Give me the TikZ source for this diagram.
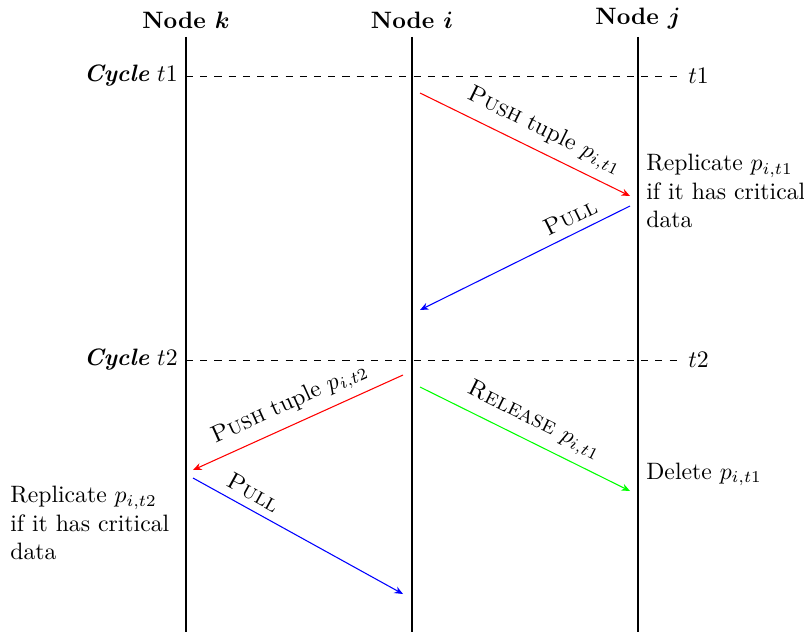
\documentclass[tikz,border=0pt]{standalone}
\usepackage{amsmath}
\usetikzlibrary{arrows.meta}
\begin{document}
\begin{tikzpicture}[x=0.4219pt,y=-0.4219pt,
  life/.style={semithick},
  cyc/.style={dashed},
  msg/.style={line width=0.45pt,-{Stealth[length=3.6pt,width=3pt]}},
  lbl/.style={sloped,above},
  hdr/.style={anchor=south},
  note/.style={align=left}]
\useasboundingbox (0,0) rectangle (804,641);
% headers
\node[hdr] (hk) at (186,37) {\textbf{Node $\boldsymbol{k}$}};
\node[hdr] (hi) at (412,37) {\textbf{Node $\boldsymbol{i}$}};
\node[hdr] (hj) at (638,37) {\textbf{Node $\boldsymbol{j}$}};
\coordinate (kb) at (186,632);
\coordinate (ib) at (412,632);
\coordinate (jb) at (638,632);
\draw[life] (186,37) -- (kb);
\draw[life] (412,37) -- (ib);
\draw[life] (638,37) -- (jb);
% cycles
\coordinate (c1s) at (186,76);
\coordinate (c1e) at (680,76);
\coordinate (c2s) at (186,360);
\coordinate (c2e) at (680,360);
\node[anchor=east] (c1l) at (c1s) {\textbf{\textit{Cycle}} $t1$};
\node[anchor=east] (c2l) at (c2s) {\textbf{\textit{Cycle}} $t2$};
\draw[cyc] (c1s) -- (c1e) node[anchor=west] (c1r) {$t1$};
\draw[cyc] (c2s) -- (c2e) node[anchor=west] (c2r) {$t2$};
% messages
\coordinate (a1s) at (420,93);  \coordinate (a1e) at (630,196);
\coordinate (a2s) at (630,206); \coordinate (a2e) at (420,310);
\coordinate (a3s) at (420,387); \coordinate (a3e) at (630,491);
\coordinate (a4s) at (403,375); \coordinate (a4e) at (193,470);
\coordinate (a5s) at (193,478); \coordinate (a5e) at (403,594);
\draw[msg,red] (a1s) -- (a1e) node[lbl,pos=0.55,text=black] (l1) {\textsc{Push} tuple $p_{i,t1}$};
\draw[msg,blue] (a2s) -- (a2e) node[lbl,pos=0.25,text=black] (l2) {\textsc{Pull}};
\draw[msg,green] (a3s) -- (a3e) node[lbl,pos=0.5,text=black] (l3) {\textsc{Release} $p_{i,t1}$};
\draw[msg,red] (a4s) -- (a4e) node[lbl,pos=0.5,text=black] (l4) {\textsc{Push} tuple $p_{i,t2}$};
\draw[msg,blue] (a5s) -- (a5e) node[lbl,pos=0.25,text=black] (l5) {\textsc{Pull}};
% notes
\node[note,anchor=north west] (n1) at (638,146) {Replicate $p_{i,t1}$\\if it has critical\\data};
\node[note,anchor=base west] (n2) at (638,479) {Delete $p_{i,t1}$};
\node[note,anchor=north west] (n3) at (2,478) {Replicate $p_{i,t2}$\\if it has critical\\data};
\end{tikzpicture}
\end{document}
